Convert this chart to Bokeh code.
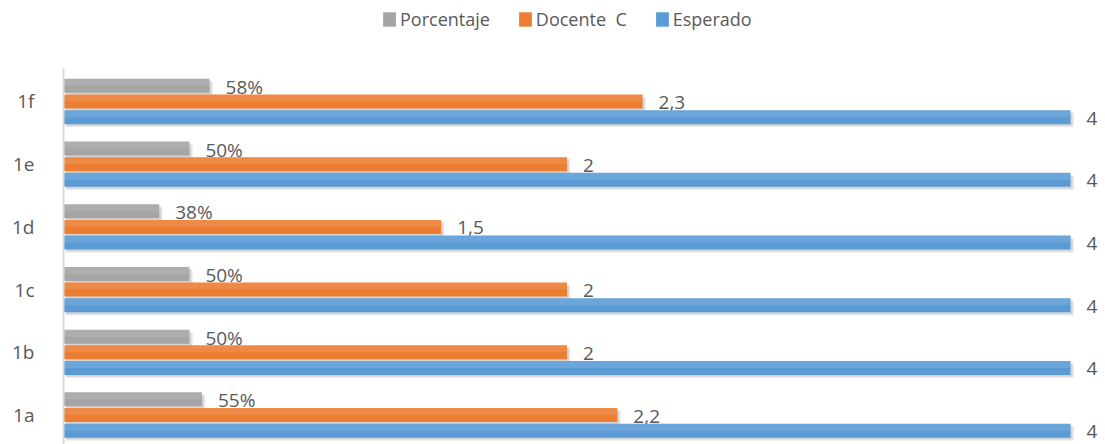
from bokeh.plotting import figure
from bokeh.models import ColumnDataSource, Range1d, FixedTicker, Legend, LegendItem
from bokeh.core.properties import value
from bokeh.embed import file_html
from bokeh.resources import INLINE

categories = ["1a", "1b", "1c", "1d", "1e", "1f"]
porcentaje = [0.55, 0.50, 0.50, 0.38, 0.50, 0.58]
docente = [2.2, 2.0, 2.0, 1.5, 2.0, 2.3]
esperado = [4, 4, 4, 4, 4, 4]

def fmt(v):
    s = ("%.1f" % v).rstrip("0").rstrip(".")
    return s.replace(".", ",")

FONT = "Open Sans"
TXT = "#595959"

p = figure(width=1105, height=444, output_backend="svg", toolbar_location=None,
           x_range=Range1d(0, 4.127), y_range=Range1d(-0.47, 6.61),
           min_border_left=63, min_border_right=3, min_border_top=0, min_border_bottom=0)
p.outline_line_color = None
p.xaxis.visible = False
p.xgrid.visible = False
p.ygrid.visible = False
p.background_fill_color = "white"

idx = list(range(len(categories)))
series = [
    ("Porcentaje", porcentaje, 0.25, "#A5A5A5", [f"{round(v*100)}%" for v in porcentaje]),
    ("Docente  C", docente, 0.0, "#ED7D31", [fmt(v) for v in docente]),
    ("Esperado", esperado, -0.25, "#5B9BD5", [fmt(v) for v in esperado]),
]
H = 0.223
items = []
for name, vals, off, col, labs in series:
    ys = [i + off for i in idx]
    src = ColumnDataSource(dict(y=ys, v=vals, lab=labs,
                                ys1=[y - 0.03 for y in ys], vs1=[v + 0.008 for v in vals],
                                ys2=[y - 0.05 for y in ys], vs2=[v + 0.014 for v in vals],
                                yt=[y + H / 4 for y in ys]))
    p.hbar(y="ys2", left=0.01, right="vs2", height=H, source=src,
           fill_color="#000000", fill_alpha=0.07, line_color=None)
    p.hbar(y="ys1", left=0.01, right="vs1", height=H, source=src,
           fill_color="#000000", fill_alpha=0.10, line_color=None)
    r = p.hbar(y="y", left=0, right="v", height=H, source=src,
               fill_color=col, line_color=None)
    p.hbar(y="yt", left=0, right="v", height=H / 2, source=src,
           fill_color="white", fill_alpha=0.10, line_color=None)
    p.text(x="v", y="y", text="lab", source=src, x_offset=16, y_offset=1,
           text_font=value(FONT), text_font_size="19px", text_color=TXT,
           text_baseline="middle", text_align="left")
    items.append(LegendItem(label=name, renderers=[r]))

p.yaxis.ticker = FixedTicker(ticks=idx)
p.yaxis.bounds = (-0.47, 5.53)
p.yaxis.major_label_overrides = {i: c for i, c in zip(idx, categories)}
p.yaxis.axis_line_color = "#D9D9D9"
p.yaxis.axis_line_width = 2
p.yaxis.major_tick_line_color = None
p.yaxis.minor_tick_line_color = None
p.yaxis.major_label_standoff = 23
p.yaxis.major_label_text_font = FONT
p.yaxis.major_label_text_font_size = "19px"
p.yaxis.major_label_text_color = TXT

legend = Legend(items=items, orientation="horizontal", location=(318, 413),
                glyph_width=16, glyph_height=18, label_standoff=3, spacing=27,
                padding=0, margin=0, border_line_color=None, background_fill_alpha=0,
                label_text_font=FONT, label_text_font_size="18px", label_text_color=TXT)
p.add_layout(legend, "center")

open("out.html", "w").write(file_html(p, INLINE))
